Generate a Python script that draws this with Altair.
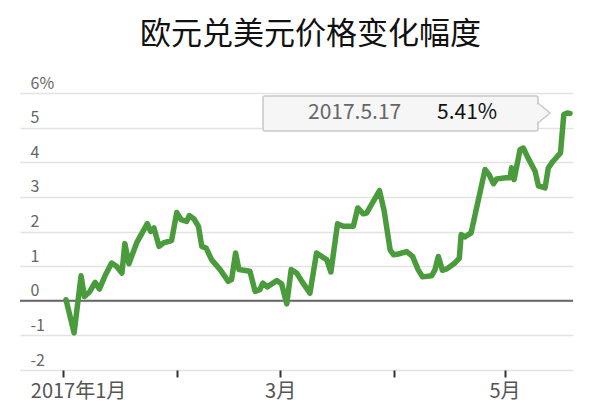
import altair as alt
import pandas as pd

# ---- data (days since 2017-01-01, % change) ----
day = [0.8, 3.0, 4.9, 5.8, 7.3, 8.7, 9.9, 11.4, 13.2, 14.6, 16.0, 16.8, 17.9,
       20.0, 21.5, 22.9, 23.8, 24.7, 26.1, 27.3, 29.5, 30.9, 32.1, 33.6, 34.3,
       35.6, 36.8, 37.7, 38.9, 40.4, 42.7, 44.9, 45.8, 46.9, 47.8, 50.8, 52.2,
       53.5, 54.3, 55.5, 58.1, 59.4, 60.8, 62.0, 63.5, 64.9, 67.1, 68.9, 71.7,
       72.8, 74.6, 76.2, 78.9, 80.1, 81.6, 82.5, 86.0, 87.3, 88.9, 89.8, 91.1,
       93.4, 95.0, 96.5, 97.7, 100.2, 101.1, 102.0, 103.1, 104.3, 106.5, 107.7,
       108.2, 109.2, 110.9, 114.7, 115.8, 117.0, 117.9, 120.4, 121.5, 121.9,
       122.6, 124.2, 125.1, 126.4, 128.3, 129.2, 131.0, 131.9, 133.2, 135.2,
       136.1, 137.0, 137.8]
change = [0.03, -0.93, 0.72, 0.12, 0.27, 0.53, 0.34, 0.72, 1.09, 0.99, 0.80, 1.65, 1.07,
          1.67, 1.96, 2.23, 2.00, 2.10, 1.57, 1.67, 1.74, 2.55, 2.34, 2.29, 2.46,
          2.36, 2.15, 1.57, 1.52, 1.18, 0.90, 0.56, 0.61, 1.38, 0.90, 0.85, 0.27,
          0.32, 0.51, 0.40, 0.58, 0.49, -0.09, 0.90, 0.80, 0.56, 0.22, 1.38, 1.18,
          0.83, 2.22, 2.15, 2.15, 2.68, 2.51, 2.53, 3.18, 2.58, 1.47, 1.33, 1.35,
          1.42, 1.28, 0.90, 0.69, 0.72, 0.90, 1.28, 0.88, 0.92, 1.09, 1.23,
          1.91, 1.84, 1.96, 3.79, 3.64, 3.38, 3.52, 3.55, 3.55, 3.84,
          3.50, 4.36, 4.41, 4.12, 3.74, 3.32, 3.26, 3.84, 4.03, 4.27,
          5.38, 5.42, 5.41]

y_ticks = [-2, -1, 0, 1, 2, 3, 4, 5, 6]
x_ticks = [0, 31, 59, 90, 120]          # month starts: Jan, Feb, Mar, Apr, May
tip_date = ["2017.5.17"]
tip_value = [5.41]
title_text = "欧元兑美元价格变化幅度"

FONT = "Noto Sans CJK SC"
W, H = 553, 277
GREEN = "#4a9b3c"
BOX_FILL = "#f6f6f6"
BOX_STROKE = "#c8c8c8"

df = pd.DataFrame({"day": day, "change": change})
zero_df = pd.DataFrame({"day": [0], "change": [0]})
tip_df = pd.DataFrame({"date": tip_date, "value": tip_value})

x_scale = alt.Scale(domain=[-11.7, 138.6], nice=False, zero=False)
y_scale = alt.Scale(domain=[-2, 6], nice=False, zero=False)

x_axis = alt.Axis(
    values=x_ticks, grid=False, domain=False, ticks=True, tickSize=7,
    tickWidth=2, tickColor="#333",
    labelExpr="datum.value == 0 ? '2017年1月' : datum.value == 59 ? '3月' : datum.value == 120 ? '5月' : ''",
    labelOverlap=False, labelFlush=False, labelFont=FONT, labelFontSize=20,
    labelColor="#555", labelPadding=4,
    labelOffset={"condition": {"test": "datum.value == 0", "value": 15}, "value": 0},
    title=None,
)
y_axis = alt.Axis(
    values=y_ticks, grid=True, gridColor="#e3e3e3", gridWidth=1.5,
    domain=False, ticks=False, tickSize=0, labelAlign="left",
    labelBaseline="alphabetic", labelPadding=-10, labelOffset=-5,
    labelExpr="datum.value == 6 ? '6%' : '' + datum.value",
    labelFont=FONT, labelFontSize=16, labelColor="#666", title=None,
)

zero = alt.Chart(zero_df).mark_rule(color="#666", strokeWidth=2).encode(
    y=alt.Y("change:Q", scale=y_scale, axis=y_axis)
)

line = alt.Chart(df).mark_line(
    color=GREEN, strokeWidth=5.5, strokeJoin="round", strokeCap="round"
).encode(
    x=alt.X("day:Q", scale=x_scale, axis=x_axis),
    y=alt.Y("change:Q", scale=y_scale, axis=y_axis),
)

box = alt.Chart(tip_df).mark_rect(
    fill=BOX_FILL, stroke=BOX_STROKE, strokeWidth=1.5, cornerRadius=2
).encode(x=alt.value(243), x2=alt.value(518), y=alt.value(3), y2=alt.value(38))

arrow = alt.Chart(tip_df).mark_point(
    shape="M 0 -1 L 1.2 0 L 0 1 Z", size=400, filled=True, fill=BOX_FILL,
    stroke=BOX_STROKE, strokeWidth=1.5, opacity=1, fillOpacity=1, strokeOpacity=1
).encode(x=alt.value(518), y=alt.value(20))

cover = alt.Chart(tip_df).mark_rect(fill=BOX_FILL, strokeWidth=0).encode(
    x=alt.value(514), x2=alt.value(519.5), y=alt.value(11.5), y2=alt.value(28.5)
)

tip_label = alt.Chart(tip_df).mark_text(
    align="left", baseline="middle", font=FONT, fontSize=21, color="#666"
).encode(x=alt.value(288), y=alt.value(20), text="date:N")

tip_val = alt.Chart(tip_df).transform_calculate(
    lab="format(datum.value, '.2f') + '%'"
).mark_text(
    align="left", baseline="middle", font=FONT, fontSize=21, color="#111"
).encode(x=alt.value(417), y=alt.value(20), text="lab:N")

chart = alt.layer(zero, line, box, arrow, cover, tip_label, tip_val).properties(
    width=W, height=H,
    title=alt.TitleParams(title_text, font=FONT, fontSize=31, color="#111",
                          fontWeight="normal", anchor="middle", offset=24, dx=14),
    autosize=alt.AutoSizeParams(type="none"),
    padding={"left": 12, "top": 85, "right": 10, "bottom": 40},
).configure_view(stroke=None)

chart.save("out.html", embed_options={"renderer": "svg", "actions": False})
